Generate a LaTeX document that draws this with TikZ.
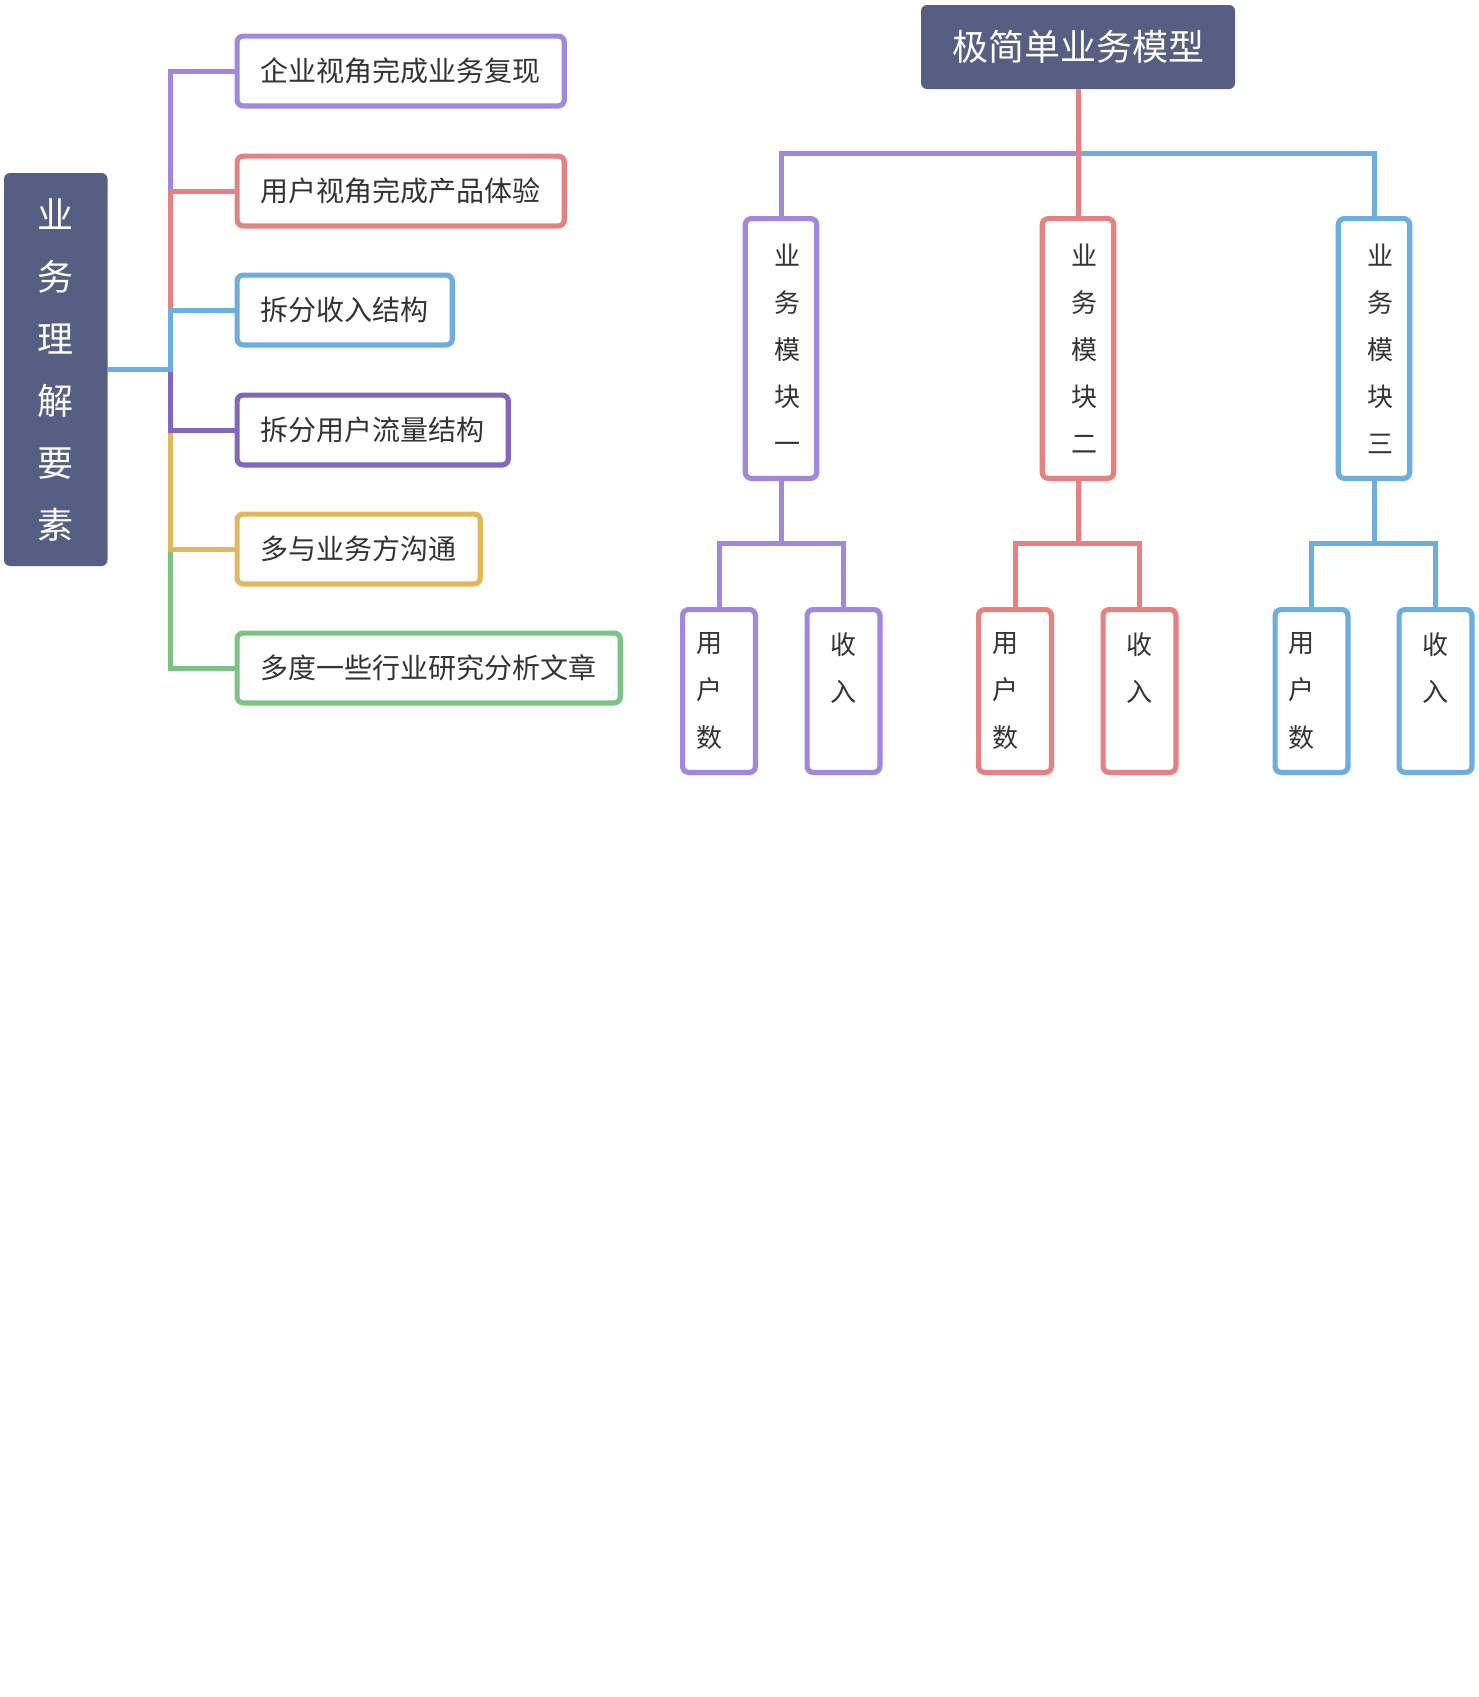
\documentclass[tikz,border=0pt]{standalone}
\usepackage{fontspec}
\setmainfont{Noto Sans CJK SC}
\definecolor{cP}{HTML}{A287DF}
\definecolor{cR}{HTML}{E38281}
\definecolor{cB}{HTML}{6CAEE0}
\definecolor{cD}{HTML}{8266BF}
\definecolor{cY}{HTML}{E3B75C}
\definecolor{cG}{HTML}{7DC383}
\definecolor{dark}{HTML}{575E84}
\definecolor{txt}{HTML}{333333}
\begin{document}
\begin{tikzpicture}[x=0.5pt,y=-0.5pt,
  box/.style={line width=2.6pt, rounded corners=3pt, fill=white, text=txt, inner sep=0pt},
  branch/.style={box, anchor=west, minimum height=34.9pt, inner xsep=11.8pt, font=\fontsize{14pt}{14pt}\selectfont},
  modbox/.style={box, minimum width=35.7pt, minimum height=129.9pt, text width=19pt, align=right, font=\fontsize{13pt}{23.5pt}\selectfont},
  leafu/.style={box, minimum width=36.4pt, minimum height=81.4pt, text width=23pt, align=left, font=\fontsize{13pt}{23.75pt}\selectfont},
  leafs/.style={box, minimum width=36.4pt, minimum height=81.4pt, align=center, font=\fontsize{13pt}{23.75pt}\selectfont},
  head/.style={fill=dark, rounded corners=3pt, text=white, inner sep=0pt},
  conn/.style={line width=2.5pt},
]
\useasboundingbox (0,0) rectangle (1478,1697);

% left tree
\node[head, minimum width=51.75pt, minimum height=196.5pt, align=center, font=\fontsize{18pt}{31pt}\selectfont] (root) at (55.75,369.5) {业\\务\\理\\解\\要\\素};
\node[branch, draw=cP] (b1) at (234.5,71) {企业视角完成业务复现};
\node[branch, draw=cR] (b2) at (234.5,191) {用户视角完成产品体验};
\node[branch, draw=cB] (b3) at (234.5,310) {拆分收入结构};
\node[branch, draw=cD] (b4) at (234.5,430) {拆分用户流量结构};
\node[branch, draw=cY] (b5) at (234.5,549) {多与业务方沟通};
\node[branch, draw=cG] (b6) at (234.5,668) {多度一些行业研究分析文章};
\coordinate (tr) at (170,369.5);
\draw[conn,cG] (root.east) -- (tr) |- (b6.west);
\draw[conn,cY] (root.east) -- (tr) |- (b5.west);
\draw[conn,cD] (root.east) -- (tr) |- (b4.west);
\draw[conn,cP] (root.east) -- (tr) |- (b1.west);
\draw[conn,cR] (root.east) -- (tr) |- (b2.west);
\draw[conn,cB] (root.east) -- (tr) |- (b3.west);

% right tree
\node[head, minimum width=157pt, minimum height=42pt, font=\fontsize{18pt}{18pt}\selectfont] (top) at (1078,47) {极简单业务模型};
\node[modbox, draw=cP] (m1) at (781,348.5) {业\\务\\模\\块\\一};
\node[modbox, draw=cR] (m2) at (1078,348.5) {业\\务\\模\\块\\二};
\node[modbox, draw=cB] (m3) at (1374,348.5) {业\\务\\模\\块\\三};
\coordinate (hub) at (1078,153);
\draw[conn,cP] (hub) -| (m1.north);
\draw[conn,cB] (hub) -| (m3.north);
\draw[conn,cR] (top.south) -- (m2.north);

\node[leafu, draw=cP] (l1a) at (719,691) {用\\户\\数};
\node[leafs, draw=cP] (l1b) at (843.5,691) {收\\入\\\mbox{}};
\node[leafu, draw=cR] (l2a) at (1015,691) {用\\户\\数};
\node[leafs, draw=cR] (l2b) at (1139.5,691) {收\\入\\\mbox{}};
\node[leafu, draw=cB] (l3a) at (1311.5,691) {用\\户\\数};
\node[leafs, draw=cB] (l3b) at (1435.5,691) {收\\入\\\mbox{}};

\draw[conn,cP] (m1.south) -- ++(0,62) -| (l1a.north);
\draw[conn,cP] (m1.south) -- ++(0,62) -| (l1b.north);
\draw[conn,cR] (m2.south) -- ++(0,62) -| (l2a.north);
\draw[conn,cR] (m2.south) -- ++(0,62) -| (l2b.north);
\draw[conn,cB] (m3.south) -- ++(0,62) -| (l3a.north);
\draw[conn,cB] (m3.south) -- ++(0,62) -| (l3b.north);
\end{tikzpicture}
\end{document}
